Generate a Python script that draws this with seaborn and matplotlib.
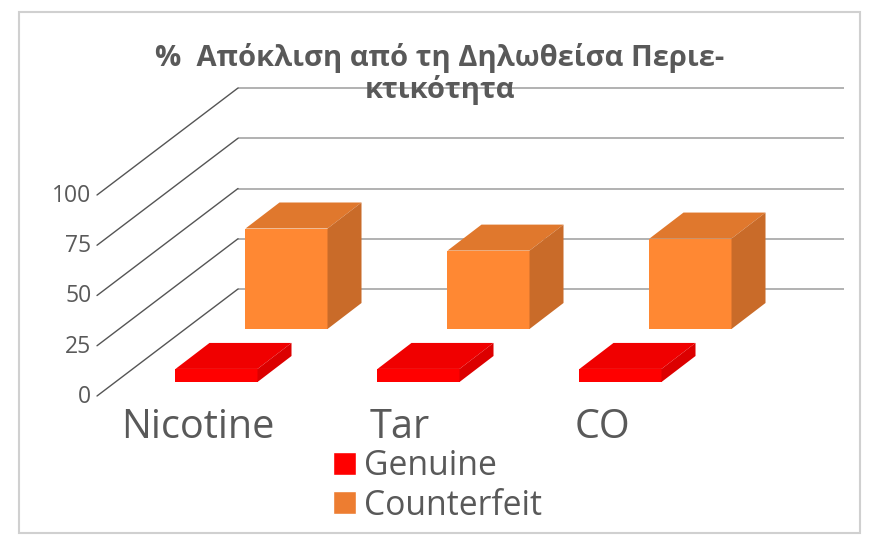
import matplotlib
matplotlib.use("Agg")
import matplotlib.pyplot as plt
from matplotlib.patches import Patch, Polygon, Rectangle
from matplotlib.transforms import Affine2D, IdentityTransform
import seaborn as sns

# values
components = ["Nicotine", "Tar", "CO"]
genuine = [6.5, 6.5, 6.5]
counterfeit = [50, 39, 45]
value_ticks = [0, 25, 50, 75, 100]
series_names = ["Genuine", "Counterfeit"]
title_text = "%  Απόκλιση από τη Δηλωθείσα Περιε-\nκτικότητα"

W, H = 880, 548
GREY = "#595959"
# depth of the fake 3D box, in pixels (right, up)
WALL = (141, 107)
GENUINE_ROW = (18.5, 14)
COUNTERFEIT_ROW = (88.5, 67)
BAR_DEPTH = (34, 26)

sns.set_theme(style="white")
plt.rcParams["font.family"] = ["Open Sans", "DejaVu Sans"]

fig = plt.figure(figsize=(W / 100, H / 100), dpi=100, facecolor="white")
ax = fig.add_axes([97 / W, 1 - 396 / H, 606 / W, 201 / H])
ax.patch.set_alpha(0)


def draw_row(values, row, front, top, side, zorder):
    sns.barplot(x=components, y=values, ax=ax, color=front, saturation=1,
                width=0.406, errorbar=None, linewidth=0, zorder=zorder)
    ax.set_xlim(-0.5, 2.5)
    ax.set_ylim(0, 100)
    shift = ax.transData + Affine2D().translate(*row)
    for bar in ax.containers[-1]:
        bar.set_transform(shift)
        bar.set_clip_on(False)
        x0, y0 = shift.transform((bar.get_x(), 0))
        x1, y1 = shift.transform((bar.get_x() + bar.get_width(), bar.get_height()))
        dx, dy = BAR_DEPTH
        ax.add_patch(Polygon([(x0, y1), (x1, y1), (x1 + dx, y1 + dy), (x0 + dx, y1 + dy)],
                             facecolor=top, edgecolor="none",
                             transform=IdentityTransform(), clip_on=False, zorder=zorder))
        ax.add_patch(Polygon([(x1, y0), (x1 + dx, y0 + dy), (x1 + dx, y1 + dy), (x1, y1)],
                             facecolor=side, edgecolor="none",
                             transform=IdentityTransform(), clip_on=False, zorder=zorder))


draw_row(counterfeit, COUNTERFEIT_ROW, "#FF8833", "#E0782D", "#C96B29", 3)
draw_row(genuine, GENUINE_ROW, "#FF0000", "#F00000", "#DC0000", 4)

# back wall and the diagonals on the side wall
wall = ax.transData + Affine2D().translate(*WALL)
ax.hlines(value_ticks, -0.5, 2.5, colors="#ABABAB", linewidth=1.3,
          transform=wall, clip_on=False, zorder=1)
for v in value_ticks:
    x0, y0 = ax.transData.transform((-0.5, v))
    ax.plot([x0, x0 + WALL[0]], [y0, y0 + WALL[1]], color="#555555", linewidth=1.0,
            transform=IdentityTransform(), clip_on=False, zorder=1)

ax.set_xlim(-0.5, 2.5)
ax.set_ylim(0, 100)
ax.set_yticks(value_ticks)
ax.tick_params(axis="y", length=0, pad=4, labelsize=16.5, labelcolor=GREY)
ax.tick_params(axis="x", length=0, pad=8, labelsize=28.5, labelcolor=GREY)
for label in ax.get_yticklabels():
    label.set_transform(label.get_transform() + Affine2D().translate(0, 2))
sns.despine(ax=ax, left=True, bottom=True)

fig.text(440 / W, 1 - 74 / H, title_text, ha="center", va="center", fontsize=21,
         fontweight="bold", color=GREY, linespacing=1.1, zorder=10)

handles = [Patch(facecolor="#FF0000", label=series_names[0]),
           Patch(facecolor="#ED7D31", label=series_names[1])]
fig.legend(handles=handles, loc="center left", bbox_to_anchor=(333 / W, 1 - 486 / H),
           frameon=False, fontsize=24.3, labelcolor=GREY, handlelength=0.68,
           handleheight=0.68, handletextpad=0.25, labelspacing=0.16,
           borderpad=0, borderaxespad=0)

fig.add_artist(Rectangle((19 / W, 1 - 533 / H), 841 / W, 521 / H, fill=False,
                         edgecolor="#D0D0D0", linewidth=1.5, transform=fig.transFigure))

fig.savefig("out.png", dpi=100)
